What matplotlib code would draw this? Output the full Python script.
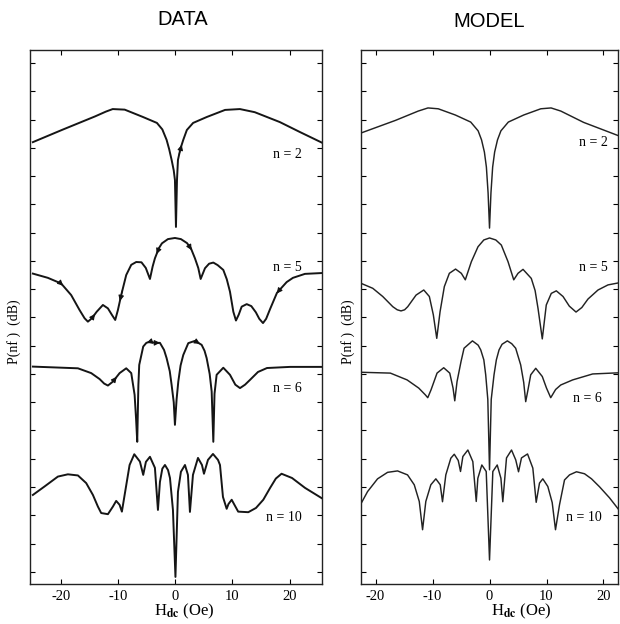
import numpy as np
import matplotlib
matplotlib.use('Agg')
import matplotlib.pyplot as plt

plt.rcParams['font.family'] = 'Liberation Serif'
plt.rcParams['mathtext.fontset'] = 'stix'

# ---- DATA panel (H_dc in Oe, P in tick units) ----
data_n2_x = [-25.0, -19.8, -14.1, -12.2, -11.0, -8.9, -5.7, -3.25, -2.3, -1.55, -1.1, -0.67, -0.3, -0.09,
             0.09, 0.27, 0.44, 0.85, 1.37, 2.0, 3.1, 5.5, 8.7, 11.3, 13.9, 18.3, 21.8, 25.7]
data_n2_y = [15.20, 15.64, 16.11, 16.28, 16.37, 16.35, 16.09, 15.88, 15.65, 15.28, 14.95, 14.57, 14.2, 13.86,
             12.20, 13.86, 14.57, 14.95, 15.28, 15.63, 15.88, 16.09, 16.34, 16.37, 16.26, 15.91, 15.56, 15.18]

data_n5_x = [-25.0, -22.37, -20.04, -18.28, -16.81, -15.93, -15.35, -14.65, -13.81, -12.72, -11.84, -11.14,
             -10.56, -10.09, -9.51, -8.63, -7.75, -6.88, -5.96, -5.2, -4.47, -4.0, -3.6, -2.9, -2.37, -1.32,
             -0.09, 0.96, 2.02, 2.7, 3.42, 4.0, 4.42, 5.18, 5.9, 6.64, 7.4, 8.39, 9.0, 9.56, 10.15, 10.61,
             11.1, 11.61, 12.49, 13.3, 14.1, 14.7, 15.35, 15.9, 16.6, 17.8, 19.5, 20.6, 22.7, 25.7]
data_n5_y = [10.55, 10.40, 10.20, 9.79, 9.26, 8.97, 8.85, 8.97, 9.20, 9.44, 9.32, 9.09,
             8.91, 9.26, 9.79, 10.50, 10.86, 10.96, 10.95, 10.75, 10.36, 10.80, 11.09, 11.45, 11.62, 11.77,
             11.81, 11.77, 11.63, 11.45, 11.09, 10.75, 10.36, 10.74, 10.90, 10.94, 10.85, 10.68, 10.35, 9.91, 9.20, 8.89,
             9.10, 9.38, 9.47, 9.40, 9.18, 8.95, 8.80, 8.95, 9.30, 9.87, 10.25, 10.40, 10.54, 10.57]

data_n6_x = [-25.0, -17.1, -14.77, -13.3, -12.5, -11.84, -10.96, -9.79, -8.63, -7.75, -7.16, -6.9, -6.7,
             -6.5, -6.35, -5.65, -5.1, -4.47, -3.6, -2.72, -2.0, -1.55, -1.0, -0.67, -0.3, -0.09,
             0.2, 0.5, 0.9, 1.37, 2.25, 3.42, 4.59, 5.1, 5.47, 6.0, 6.35, 6.64, 6.85, 7.22, 8.39,
             9.56, 10.5, 11.32, 12.2, 13.07, 14.47, 16.05, 20.1, 25.7]
data_n6_y = [7.26, 7.20, 7.03, 6.82, 6.66, 6.59, 6.73, 7.03, 7.20, 7.03, 6.26, 5.40, 4.60,
             6.60, 7.32, 7.97, 8.10, 8.14, 8.10, 8.10, 7.85, 7.56, 7.10, 6.61, 6.00, 5.20,
             6.10, 6.73, 7.30, 7.67, 8.09, 8.17, 8.03, 7.82, 7.56, 7.00, 6.38, 4.60, 6.30, 6.97, 7.22,
             6.97, 6.62, 6.50, 6.62, 6.79, 7.07, 7.21, 7.25, 7.25]

data_n10_x = [-25.0, -22.95, -20.61, -18.86, -17.1, -15.65, -14.47, -13.6, -13.02, -11.84, -10.96, -10.39,
              -9.79, -9.39, -8.91, -8.04, -7.22, -6.23, -5.65, -5.18, -4.47, -3.6, -3.07, -2.72, -2.3,
              -1.84, -1.3, -0.96, -0.44, 0.0, 0.44, 0.96, 1.67, 2.19, 2.54, 3.07, 3.95, 4.65, 5.0,
              5.7, 6.58, 7.46, 7.81, 8.33, 8.98, 9.3, 9.86, 10.4, 11.0, 12.77, 14.12, 15.4, 16.6,
              17.6, 18.6, 20.44, 22.72, 25.7]
data_n10_y = [2.72, 3.02, 3.37, 3.45, 3.41, 3.14, 2.72, 2.31, 2.08, 2.04, 2.31, 2.51,
              2.37, 2.13, 2.72, 3.78, 4.16, 3.90, 3.43, 3.89, 4.07, 3.68, 2.19, 3.18, 3.65,
              3.78, 3.60, 3.32, 2.19, -0.18, 2.83, 3.54, 3.78, 3.43, 2.12, 3.43, 4.03, 3.78, 3.47,
              3.96, 4.17, 3.96, 3.78, 2.65, 2.23, 2.40, 2.55, 2.35, 2.13, 2.11, 2.26, 2.55, 2.97,
              3.30, 3.47, 3.32, 2.97, 2.60]

# sweep-direction arrows drawn on the measured curves: (curve index, H position, direction)
arrow_curve = [0, 1, 1, 1, 1, 1, 1, 2, 2, 2, 2]
arrow_h = [1.1, -19.7, -14.1, -9.74, -3.3, 2.84, 17.75, -10.3, -5.05, -2.72, 4.3]
arrow_dir = [1, 1, 1, -1, -1, 1, -1, 1, -1, 1, 1]

# ---- MODEL panel ----
model_n2_x = [-22.6, -16.5, -12.5, -10.8, -9.0, -6.0, -3.3, -2.0, -1.4, -0.9, -0.55, -0.25,
              0.0, 0.25, 0.55, 0.9, 1.4, 2.0, 3.3, 6.0, 9.0, 10.8, 12.5, 16.5, 22.6]
model_n2_y = [15.52, 15.97, 16.30, 16.41, 16.38, 16.16, 15.91, 15.6, 15.28, 14.85, 14.32, 13.4,
              12.16, 13.4, 14.32, 14.85, 15.28, 15.6, 15.91, 16.16, 16.38, 16.41, 16.30, 15.90, 15.43]

model_n5_x = [-22.6, -20.49, -18.74, -16.98, -16.2, -15.53, -14.9, -14.35, -12.89, -11.54, -10.56, -9.86,
              -9.26, -8.68, -7.93, -7.05, -5.96, -4.95, -4.25, -3.19, -2.02, -1.0, 0.0, 1.1, 2.07, 3.25,
              4.25, 5.0, 5.88, 7.33, 8.0, 8.51, 9.26, 9.96, 10.84, 11.72, 12.9, 14.0, 15.18, 16.2,
              17.28, 19.04, 20.79, 22.6]
model_n5_y = [10.21, 10.03, 9.74, 9.38, 9.27, 9.23, 9.27, 9.38, 9.79, 9.97, 9.74, 9.09,
              8.26, 9.20, 10.09, 10.56, 10.71, 10.56, 10.33, 10.97, 11.50, 11.74, 11.81, 11.74, 11.56, 10.97,
              10.33, 10.56, 10.70, 10.38, 9.95, 9.32, 8.24, 9.44, 9.85, 9.94, 9.74, 9.40, 9.19, 9.35,
              9.65, 9.97, 10.15, 10.22]

model_n6_x = [-22.6, -17.4, -14.47, -12.42, -11.26, -10.84, -10.26, -9.21, -8.04, -6.98, -6.4, -6.1,
              -5.7, -5.0, -4.47, -3.0, -2.0, -1.54, -1.0, -0.67, -0.3, 0.0, 0.3, 0.79, 1.2, 1.67,
              2.2, 3.13, 3.9, 4.59, 5.47, 6.0, 6.35, 6.75, 7.23, 8.11, 9.26, 10.0, 10.74, 11.6,
              12.5, 14.6, 18.1, 22.6]
model_n6_y = [7.06, 7.03, 6.79, 6.50, 6.26, 6.16, 6.44, 7.03, 7.22, 7.03, 6.50, 6.05,
              6.73, 7.44, 7.91, 8.17, 8.02, 7.85, 7.50, 6.97, 6.10, 3.61, 6.10, 6.97, 7.50, 7.85,
              8.05, 8.17, 8.07, 7.91, 7.32, 6.70, 6.02, 6.44, 6.97, 7.20, 6.91, 6.50, 6.16, 6.45,
              6.61, 6.79, 7.00, 7.04]

model_n10_x = [-22.86, -21.4, -19.65, -17.89, -16.14, -14.39, -13.21, -12.33, -11.75, -11.18, -10.3, -9.42,
               -8.65, -8.25, -7.67, -6.79, -6.19, -5.49, -5.09, -4.68, -3.8, -2.93, -2.33, -2.05, -1.35,
               -0.58, 0.0, 0.58, 1.35, 2.0, 2.33, 2.98, 3.86, 4.6, 5.09, 5.61, 6.67, 7.6, 8.19, 8.77,
               9.35, 10.23, 11.0, 11.58, 12.28, 13.16, 14.04, 15.26, 16.67, 17.9, 19.3, 21.05, 22.6]
model_n10_y = [2.30, 2.84, 3.29, 3.52, 3.57, 3.43, 3.08, 2.49, 1.49, 2.49, 3.08, 3.29,
               3.08, 2.48, 3.43, 4.02, 4.16, 3.94, 3.55, 4.08, 4.31, 3.90, 2.49, 3.31, 3.78,
               3.55, 0.42, 3.55, 3.78, 3.31, 2.48, 4.03, 4.31, 3.96, 3.54, 4.03, 4.17, 3.67, 2.46, 3.14,
               3.29, 3.02, 2.45, 1.49, 2.37, 3.25, 3.43, 3.54, 3.47, 3.29, 3.01, 2.62, 2.22]

n_labels = ['n = 2', 'n = 5', 'n = 6', 'n = 10']
data_label_pos = [(22.2, 14.78), (22.2, 10.75), (22.2, 6.47), (22.2, 1.94)]
model_label_pos = [(20.8, 15.17), (20.8, 10.78), (19.7, 6.12), (19.7, 1.94)]

xticks = [-20, -10, 0, 10, 20]
yticks = list(range(0, 19))

fig = plt.figure(figsize=(6.2, 6.24), dpi=100)
ax1 = fig.add_axes([0.0484, 0.0641, 0.4710, 0.8558])
ax2 = fig.add_axes([0.5823, 0.0641, 0.4145, 0.8558])

data_curves = [(data_n2_x, data_n2_y), (data_n5_x, data_n5_y),
               (data_n6_x, data_n6_y), (data_n10_x, data_n10_y)]
model_curves = [(model_n2_x, model_n2_y), (model_n5_x, model_n5_y),
                (model_n6_x, model_n6_y), (model_n10_x, model_n10_y)]

for x, y in data_curves:
    ax1.plot(x, y, color='#151515', lw=1.4, solid_joinstyle='round')
for x, y in model_curves:
    ax2.plot(x, y, color='#222222', lw=1.05, solid_joinstyle='round')

# little arrowheads sitting on the data curves
for ci, h, d in zip(arrow_curve, arrow_h, arrow_dir):
    cx, cy = data_curves[ci]
    h0 = h - 0.45 * d
    y0 = np.interp(h0, cx, cy)
    y1 = np.interp(h, cx, cy)
    ax1.annotate('', xy=(h, y1), xytext=(h0, y0),
                 arrowprops=dict(arrowstyle='-|>', lw=0.8, color='#111111',
                                 mutation_scale=8, shrinkA=0, shrinkB=0))

for lab, (tx, ty) in zip(n_labels, data_label_pos):
    ax1.text(tx, ty, lab, ha='right', va='center', fontsize=10)
for lab, (tx, ty) in zip(n_labels, model_label_pos):
    ax2.text(tx, ty, lab, ha='right', va='center', fontsize=10)

for ax, xl in [(ax1, (-25.5, 25.7)), (ax2, (-22.55, 22.55))]:
    ax.set_xlim(*xl)
    ax.set_ylim(-0.43, 18.46)
    ax.set_xticks(xticks)
    ax.set_xticklabels([str(t) for t in xticks])
    ax.set_yticks(yticks)
    ax.set_yticklabels([])
    ax.tick_params(direction='in', length=3.5, width=0.8, top=True, right=True,
                   labelsize=10.5, pad=4)
    for s in ax.spines.values():
        s.set_linewidth(1.0)
        s.set_color('#222222')

fig.text(0.294, 0.968, 'DATA', ha='center', va='center', fontsize=14.5,
         family='Liberation Sans')
fig.text(0.789, 0.966, 'MODEL', ha='center', va='center', fontsize=14.5,
         family='Liberation Sans')

fig.text(0.297, 0.020, r'H$_{\mathbf{dc}}$ (Oe)', ha='center', va='center', fontsize=12)
fig.text(0.841, 0.020, r'H$_{\mathbf{dc}}$ (Oe)', ha='center', va='center', fontsize=12)
fig.text(0.0226, 0.468, 'P(nf )  (dB)', ha='center', va='center', rotation=90, fontsize=10)
fig.text(0.561, 0.468, 'P(nf )  (dB)', ha='center', va='center', rotation=90, fontsize=10)

plt.savefig('out.png', dpi=100)
plt.close()
